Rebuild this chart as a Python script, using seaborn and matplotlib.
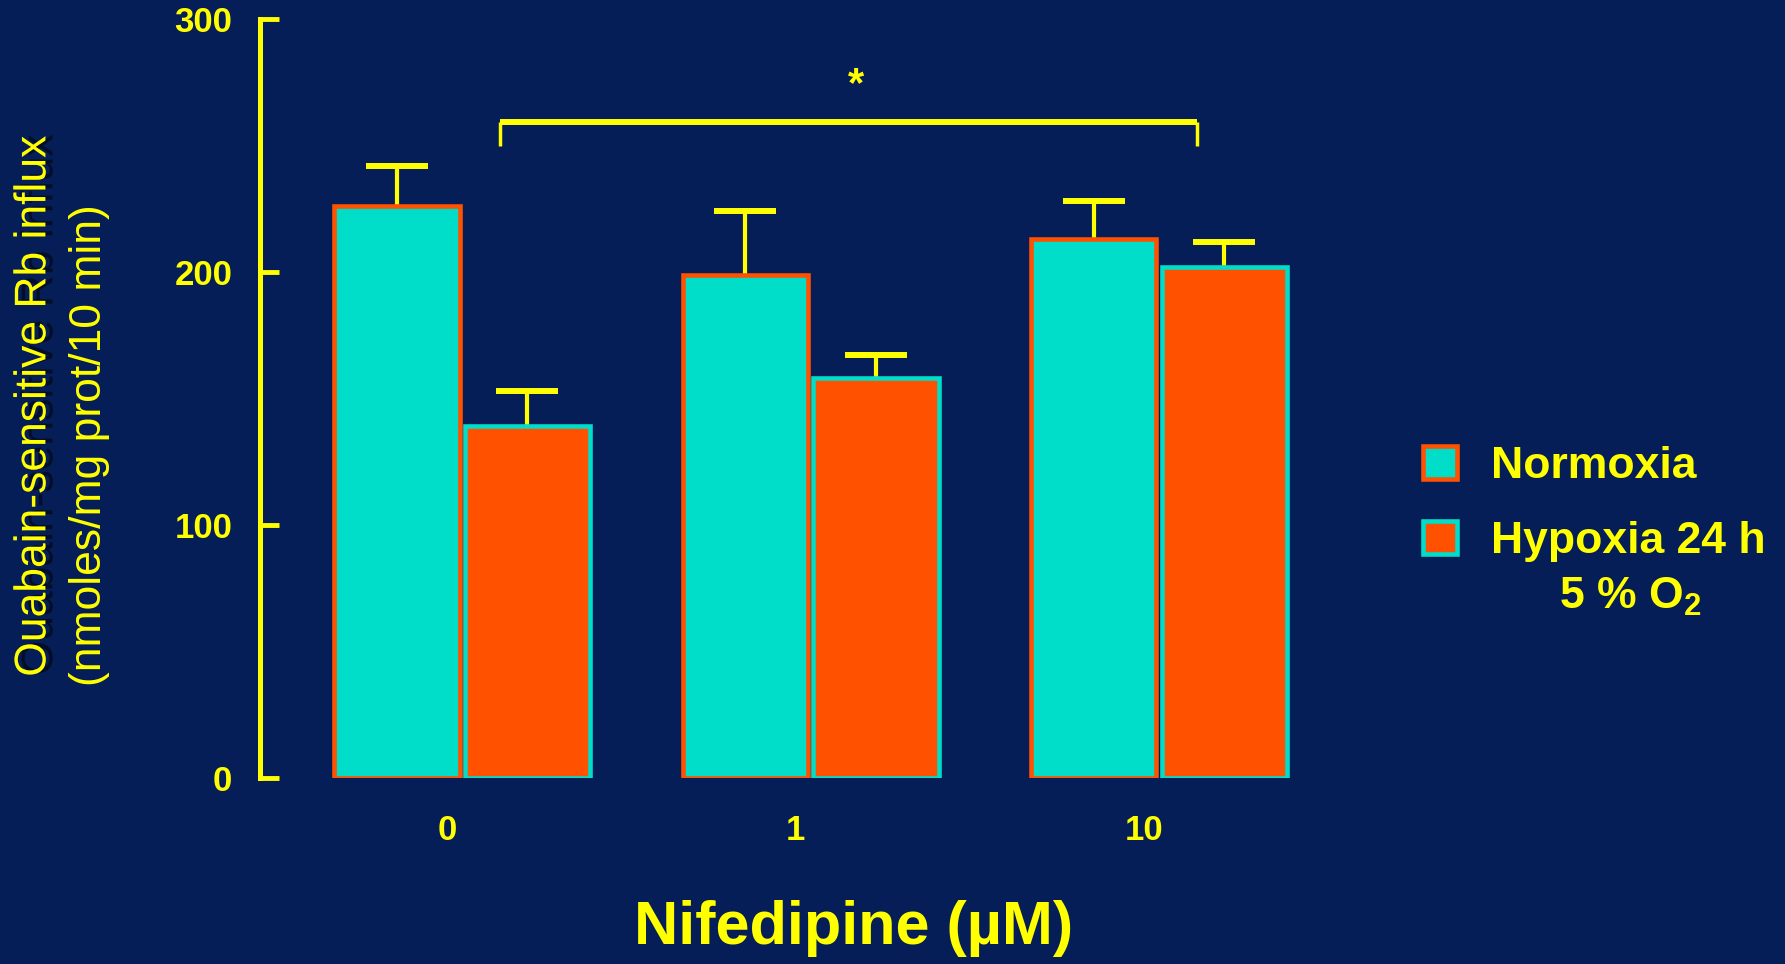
import pandas as pd
import matplotlib
matplotlib.use("Agg")
import matplotlib.pyplot as plt
import matplotlib.patheffects as pe
import matplotlib.transforms as mtransforms
import seaborn as sns

# values
concentrations = ["0", "1", "10"]
conditions = ["Normoxia", "Hypoxia 24 h"]
normoxia_mean = [226, 199, 213]
normoxia_err = [16, 25, 15]
hypoxia_mean = [139, 158, 202]
hypoxia_err = [14, 9, 10]
y_ticks = [0, 100, 200, 300]

bg = "#051e57"
teal = "#00ddc8"
orange = "#ff5100"
yellow = "#ffff00"

sns.set_style("white")
plt.rcParams['font.family'] = ['Liberation Sans', 'DejaVu Sans']
plt.rcParams['mathtext.fontset'] = 'custom'
plt.rcParams['mathtext.rm'] = 'Liberation Sans'
plt.rcParams['mathtext.bf'] = 'Liberation Sans:bold'

df = pd.DataFrame({
    "conc": concentrations * 2,
    "condition": [conditions[0]] * 3 + [conditions[1]] * 3,
    "value": normoxia_mean + hypoxia_mean,
})

fig = plt.figure(figsize=(17.85, 9.64), dpi=100, facecolor=bg)
ax = fig.add_axes([0.1457, 0.1934, 0.6207, 0.7866])
ax.set_facecolor(bg)

sns.barplot(data=df, x="conc", y="value", hue="condition", order=concentrations,
            hue_order=conditions, palette=[teal, orange], width=0.75, gap=0.04,
            errorbar=None, legend=False, saturation=1, ax=ax)

# swapped edge colours, as in the original slide
edge_cols = [orange, teal]
for cont, ec in zip(ax.containers, edge_cols):
    for bar in cont:
        bar.set_edgecolor(ec)
        bar.set_linewidth(3.3)

# upward error bars only
errs = [normoxia_err, hypoxia_err]
means = [normoxia_mean, hypoxia_mean]
for cont, m, e in zip(ax.containers, means, errs):
    xs = [b.get_x() + b.get_width() / 2 for b in cont]
    eb = ax.errorbar(xs, m, yerr=[[0] * len(e), e], fmt='none', ecolor=yellow,
                     elinewidth=3, capsize=22, capthick=4.3, zorder=0.5)
    eb[1][0].set_visible(False)

# significance bracket
ax.hlines(259.5, 0.11, 2.11, color=yellow, lw=4.3)
ax.vlines([0.11, 2.11], 250, 259.5, color=yellow, lw=2.5)
ax.text(1.13, 274, "*", ha='center', va='center', fontsize=30,
        fontweight='bold', color=yellow)

ax.set_xlim(-0.58, 2.6)
ax.set_ylim(0, 300)
ax.set_yticks(y_ticks)
ax.set_xlabel("")
ax.set_ylabel("")

for s in ["top", "right", "bottom"]:
    ax.spines[s].set_visible(False)
ax.spines["left"].set_color(yellow)
ax.spines["left"].set_linewidth(3.6)
ax.spines["left"].set_bounds(0, 300)

ax.tick_params(axis='y', left=True, direction='in', length=14, width=3.5,
               color=yellow, labelcolor=yellow, labelsize=25, pad=20)
ax.tick_params(axis='x', bottom=False, length=0, labelcolor=yellow,
               labelsize=25, pad=26)
for lbl in ax.get_yticklabels() + ax.get_xticklabels():
    lbl.set_fontweight('bold')
# category labels sit a little left of the bar pairs in the original
shift = mtransforms.ScaledTranslation(-0.15, 0, fig.dpi_scale_trans)
for lbl in ax.get_xticklabels():
    lbl.set_transform(lbl.get_transform() + shift)

# legend
leg = ax.legend(ax.containers, conditions, loc='upper left',
                bbox_to_anchor=(0.797, 0.537), bbox_transform=fig.transFigure,
                frameon=False, prop={'weight': 'bold', 'size': 32},
                handlelength=0.77, handleheight=0.77, handletextpad=0.77,
                labelspacing=0.75, borderpad=0, borderaxespad=0)
for t in leg.get_texts():
    t.set_color(yellow)
fig.text(0.913, 0.368, r"5 % O$_\mathbf{2}$", ha='center', va='baseline',
         fontsize=32, fontweight='bold', color=yellow)

# axis titles
fig.text(0.478, 0.037, "Nifedipine (µM)", ha='center', va='center',
         fontsize=44, fontweight='bold', color=yellow)
fig.text(0.019, 0.298, "Ouabain-sensitive Rb influx", rotation=90, ha='center',
         va='bottom', fontsize=32, color=yellow,
         path_effects=[pe.withSimplePatchShadow(offset=(5, 1), shadow_rgbFace='black', alpha=0.55)])
fig.text(0.0499, 0.288, "(nmoles/mg prot/10 min)", rotation=90, ha='center',
         va='bottom', fontsize=32, color=yellow)

fig.savefig("out.png", dpi=100, facecolor=bg)
